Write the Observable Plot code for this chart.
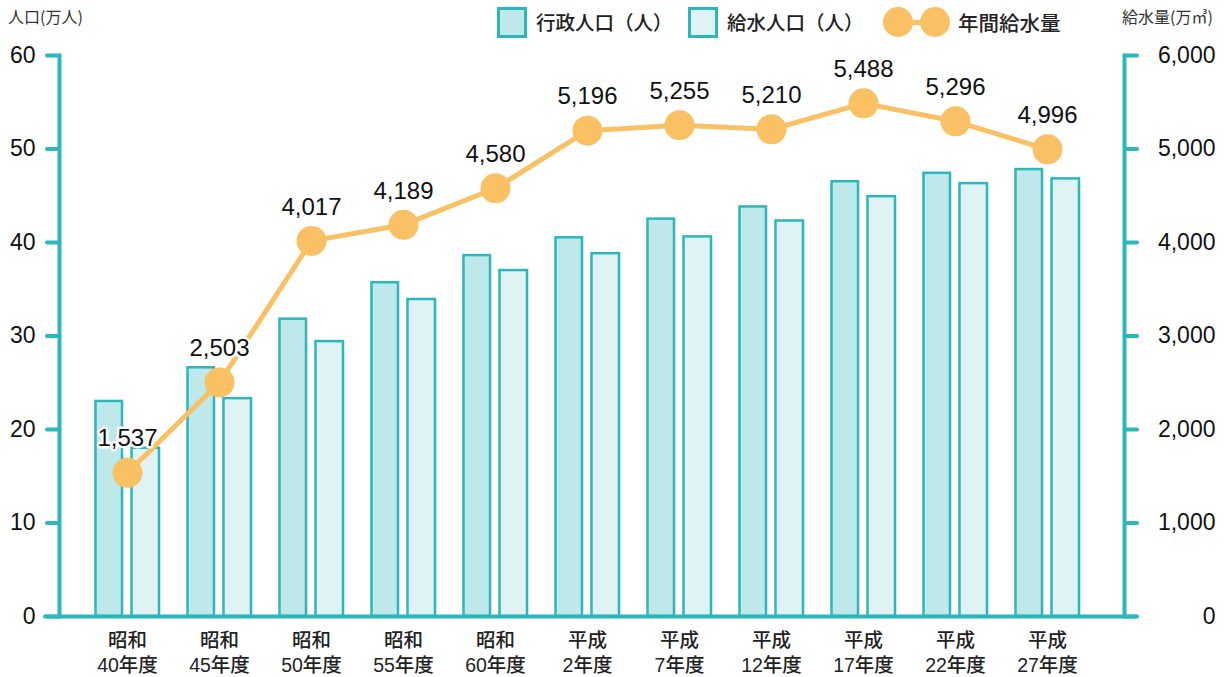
<!DOCTYPE html>
<html><head><meta charset="utf-8">
<script src="https://cdn.jsdelivr.net/npm/d3@7"></script>
<script src="https://cdn.jsdelivr.net/npm/@observablehq/plot@0.6"></script>
<style>
body{margin:0;background:#fff;font-family:"Liberation Sans","Noto Sans CJK JP",sans-serif;}
#wrap{position:relative;width:1226px;height:677px;overflow:hidden;}
#head{position:relative;height:40px;}
.at{position:absolute;top:5px;font-size:16px;color:#333;font-family:"Noto Sans CJK JP",sans-serif;line-height:22px;}
.sw{position:absolute;top:7px;width:30px;height:31px;box-sizing:border-box;border:3px solid #2bb7bc;}
.lt{position:absolute;top:8px;font-size:19.5px;line-height:28px;color:#222;font-family:"Noto Sans CJK JP",sans-serif;font-weight:500;}
.oc{position:absolute;top:7px;width:30px;height:30px;border-radius:50%;background:#f9c064;}
.ol{position:absolute;top:20px;height:5px;width:40px;background:#f9c064;}
</style></head><body>
<div id="wrap">
<div id="head">
  <span class="at" style="left:8px">人口(万人)</span>
  <span class="at" style="left:1122px">給水量(万㎥)</span>
  <div class="sw" style="left:497px;background:#bee8e9"></div>
  <span class="lt" style="left:536px">行政人口（人）</span>
  <div class="sw" style="left:688px;background:#dff3f4"></div>
  <span class="lt" style="left:727px">給水人口（人）</span>
  <div class="ol" style="left:898px"></div>
  <div class="oc" style="left:883px"></div>
  <div class="oc" style="left:920px"></div>
  <span class="lt" style="left:958px;font-size:20.5px">年間給水量</span>
</div>
<div id="chart"></div>
</div>
<script>
const categories = ["昭和\n40年度","昭和\n45年度","昭和\n50年度","昭和\n55年度","昭和\n60年度","平成\n2年度","平成\n7年度","平成\n12年度","平成\n17年度","平成\n22年度","平成\n27年度"];
const adminPop = [23.0, 26.6, 31.8, 35.7, 38.6, 40.5, 42.5, 43.8, 46.5, 47.4, 47.8];
const supplyPop = [18.0, 23.3, 29.4, 33.9, 37.0, 38.8, 40.6, 42.3, 44.9, 46.3, 46.8];
const annualSupply = [1537, 2503, 4017, 4189, 4580, 5196, 5255, 5210, 5488, 5296, 4996];
const yTicks = [0, 10, 20, 30, 40, 50, 60];

const teal = "#2bb7bc";
const orange = "#f9c064";
const fmt = d3.format(",");
const rows = categories.map((c, i) => ({cat: c, admin: adminPop[i], supply: supplyPop[i], water: annualSupply[i]}));

const chart = Plot.plot({
  width: 1226, height: 637,
  marginTop: 15, marginBottom: 61, marginLeft: 59, marginRight: 102,
  style: {fontFamily: '"Liberation Sans","Noto Sans CJK JP",sans-serif', background: "white", overflow: "visible"},
  x: {domain: categories, range: [78.3, 1095.3], padding: 0, axis: null, label: null},
  y: {domain: [0, 60], axis: null, label: null},
  marks: [
    Plot.barY(rows, {x: "cat", y: "admin", fill: "#bee8e9", stroke: teal, strokeWidth: 2.5, insetLeft: 14.5, insetRight: 51}),
    Plot.barY(rows, {x: "cat", y: "supply", fill: "#dff3f4", stroke: teal, strokeWidth: 2.5, insetLeft: 50.5, insetRight: 14}),
    Plot.frame({anchor: "left", stroke: teal, strokeWidth: 4}),
    Plot.frame({anchor: "right", stroke: teal, strokeWidth: 4}),
    Plot.axisY({anchor: "left", label: null, ticks: yTicks, tickSize: 12, tickPadding: 12, stroke: teal, strokeWidth: 4, strokeLinecap: "round", fill: "#111", fontSize: 23}),
    Plot.axisY({anchor: "right", label: null, ticks: yTicks, tickSize: 12, tickPadding: 79, textAnchor: "end", tickFormat: d => fmt(d * 100), stroke: teal, strokeWidth: 4, strokeLinecap: "round", fill: "#111", fontSize: 23}),
    Plot.ruleY([0], {stroke: teal, strokeWidth: 4, insetLeft: -14, insetRight: -12, strokeLinecap: "round"}),
    Plot.axisX({anchor: "bottom", label: null, tickSize: 0, tickPadding: 13, fontSize: 19.5, lineHeight: 1.28, fill: "#222", fontWeight: 500}),
    Plot.line(rows, {x: "cat", y: d => d.water / 100, stroke: orange, strokeWidth: 5}),
    Plot.dot(rows, {x: "cat", y: d => d.water / 100, r: 15, fill: orange}),
    Plot.text(rows, {x: "cat", y: d => d.water / 100, text: d => fmt(d.water), dy: -34, fontSize: 24, fill: "#111", stroke: "white", strokeWidth: 5})
  ]
});
document.getElementById("chart").appendChild(chart);
</script>
</body></html>
